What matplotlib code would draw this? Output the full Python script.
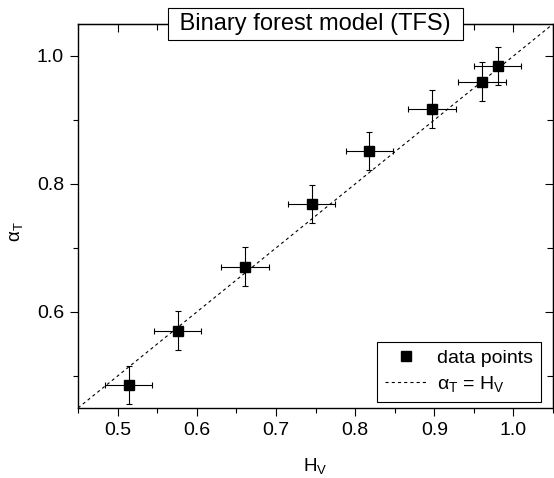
import matplotlib
matplotlib.use("Agg")
import matplotlib.pyplot as plt
from matplotlib.ticker import MultipleLocator, FormatStrFormatter

plt.rcParams['font.family'] = ['Liberation Sans', 'DejaVu Sans']
plt.rcParams['mathtext.fontset'] = 'custom'
plt.rcParams['mathtext.rm'] = 'Liberation Sans'
plt.rcParams['mathtext.it'] = 'Liberation Sans:italic'
plt.rcParams['mathtext.bf'] = 'Liberation Sans:bold'

# data
hv = [0.514, 0.576, 0.661, 0.745, 0.818, 0.897, 0.960, 0.980]
alpha_t = [0.486, 0.571, 0.671, 0.769, 0.852, 0.917, 0.960, 0.984]
hv_err = [0.03, 0.03, 0.03, 0.03, 0.03, 0.03, 0.03, 0.03]
alpha_err = [0.03, 0.03, 0.03, 0.03, 0.03, 0.03, 0.03, 0.03]

fig = plt.figure(figsize=(5.54, 4.78), dpi=100)
ax = fig.add_axes([78 / 554, 1 - 408 / 478, 475 / 554, 384 / 478])

ax.set_xlim(0.45, 1.05)
ax.set_ylim(0.45, 1.05)

ax.axline((0.5, 0.5), slope=1, color='black', lw=0.8, ls=(0, (2.8, 2.8)),
          label=r'α$_\mathrm{T}$ = H$_\mathrm{V}$', zorder=1)
ax.errorbar(hv, alpha_t, xerr=hv_err, yerr=alpha_err, fmt='none',
            ecolor='black', elinewidth=0.8, capsize=2.5, capthick=0.8, zorder=2)
ax.plot(hv, alpha_t, 's', color='black', ms=6.5, label='data points', zorder=3)

# legend order: points first
h, l = ax.get_legend_handles_labels()
leg = ax.legend(h[::-1], l[::-1], loc='lower right', bbox_to_anchor=(0.975, 0.016),
                borderaxespad=0, fontsize=14, frameon=True, fancybox=False,
                edgecolor='black', framealpha=1, handlelength=2.2,
                handletextpad=0.5, labelspacing=0.35, borderpad=0.4)
leg.get_frame().set_linewidth(0.8)

ax.xaxis.set_major_locator(MultipleLocator(0.1))
ax.xaxis.set_minor_locator(MultipleLocator(0.05))
ax.yaxis.set_major_locator(MultipleLocator(0.2))
ax.yaxis.set_minor_locator(MultipleLocator(0.1))
ax.xaxis.set_major_formatter(FormatStrFormatter('%.1f'))
ax.yaxis.set_major_formatter(FormatStrFormatter('%.1f'))
ax.tick_params(which='both', direction='out', labelsize=14, width=0.8, pad=4)
ax.tick_params(which='major', length=6)
ax.tick_params(which='minor', length=3.5)

# mirrored inward ticks on top and right
top = ax.secondary_xaxis('top')
top.xaxis.set_major_locator(MultipleLocator(0.1))
top.xaxis.set_minor_locator(MultipleLocator(0.05))
top.tick_params(which='both', direction='in', labeltop=False, width=0.8)
top.tick_params(which='major', length=6)
top.tick_params(which='minor', length=4)
right = ax.secondary_yaxis('right')
right.yaxis.set_major_locator(MultipleLocator(0.2))
right.yaxis.set_minor_locator(MultipleLocator(0.1))
right.tick_params(which='both', direction='in', labelright=False, width=0.8)
right.tick_params(which='major', length=6)
right.tick_params(which='minor', length=4)

for s in ax.spines.values():
    s.set_linewidth(1.0)

ax.set_xlabel(r'H$_\mathrm{V}$', fontsize=13.5, labelpad=12)
ax.set_ylabel(r'α$_\mathrm{T}$', fontsize=13.5)
ax.yaxis.set_label_coords(-0.112, 0.458)

ax.text(0.5, 1.0, ' Binary forest model (TFS) ', transform=ax.transAxes,
        ha='center', va='center', fontsize=17, zorder=5,
        bbox=dict(boxstyle='square,pad=0.22', fc='white', ec='black', lw=0.8))

fig.savefig('out.png', dpi=100)
